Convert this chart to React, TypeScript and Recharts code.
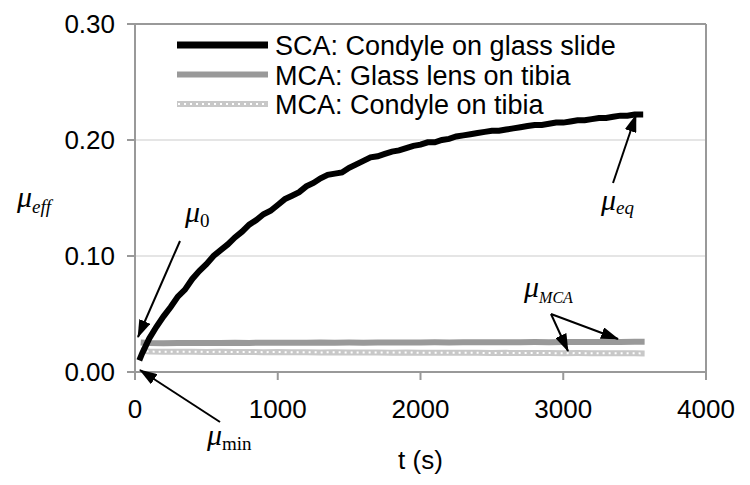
import React from "react";
import { LineChart, Line, XAxis, YAxis, CartesianGrid, ReferenceLine, Legend } from "recharts";

// SCA: Condyle on glass slide
const scaTime = [
  30, 50, 100, 150, 200, 250, 300, 350, 400, 450, 500, 550, 600, 650, 700, 750, 800, 850, 900, 950,
  1000, 1050, 1100, 1150, 1200, 1250, 1300, 1350, 1400, 1450, 1500, 1550, 1600, 1650, 1700, 1750,
  1800, 1850, 1900, 1950, 2000, 2050, 2100, 2150, 2200, 2250, 2300, 2350, 2400, 2450, 2500, 2550,
  2600, 2650, 2700, 2750, 2800, 2850, 2900, 2950, 3000, 3050, 3100, 3150, 3200, 3250, 3300, 3350,
  3400, 3450, 3500, 3560,
];
const scaMu = [
  0.010, 0.016, 0.029, 0.039, 0.048, 0.056, 0.065, 0.071, 0.080, 0.087, 0.093, 0.100, 0.105, 0.110,
  0.116, 0.121, 0.127, 0.131, 0.136, 0.139, 0.144, 0.149, 0.152, 0.155, 0.160, 0.163, 0.167, 0.170,
  0.171, 0.172, 0.176, 0.179, 0.182, 0.185, 0.186, 0.188, 0.190, 0.191, 0.193, 0.195, 0.196, 0.198,
  0.198, 0.200, 0.201, 0.203, 0.204, 0.205, 0.206, 0.207, 0.208, 0.208, 0.209, 0.210, 0.211, 0.212,
  0.213, 0.213, 0.214, 0.215, 0.215, 0.216, 0.217, 0.217, 0.218, 0.219, 0.219, 0.220, 0.221, 0.221,
  0.222, 0.222,
];

// MCA: Glass lens on tibia / Condyle on tibia
const mcaTime = [
  40, 100, 200, 300, 400, 500, 600, 700, 800, 900, 1000, 1100, 1200, 1300, 1400, 1500, 1600, 1700,
  1800, 1900, 2000, 2100, 2200, 2300, 2400, 2500, 2600, 2700, 2800, 2900, 3000, 3100, 3200, 3300,
  3400, 3500, 3570,
];
const lensMu = [
  0.0255, 0.0250, 0.0248, 0.0250, 0.0249, 0.0251, 0.0250, 0.0252, 0.0251, 0.0253, 0.0252, 0.0253,
  0.0252, 0.0254, 0.0253, 0.0254, 0.0253, 0.0255, 0.0254, 0.0255, 0.0255, 0.0256, 0.0255, 0.0256,
  0.0257, 0.0256, 0.0257, 0.0257, 0.0258, 0.0257, 0.0258, 0.0259, 0.0258, 0.0259, 0.0259, 0.0260,
  0.0260,
];
const condyleMu = [
  0.0185, 0.0176, 0.0175, 0.0174, 0.0175, 0.0173, 0.0174, 0.0172, 0.0173, 0.0171, 0.0172, 0.0170,
  0.0171, 0.0169, 0.0170, 0.0168, 0.0169, 0.0168, 0.0167, 0.0168, 0.0166, 0.0167, 0.0165, 0.0166,
  0.0165, 0.0164, 0.0165, 0.0163, 0.0164, 0.0163, 0.0162, 0.0163, 0.0162, 0.0161, 0.0162, 0.0161,
  0.0160,
];

const seriesNames = ["SCA: Condyle on glass slide", "MCA: Glass lens on tibia", "MCA: Condyle on tibia"];
const xTicks = [0, 1000, 2000, 3000, 4000];
const yTicks = [0, 0.1, 0.2, 0.3];

const scaData = scaTime.map((t, i) => ({ t, mu: scaMu[i] }));
const lensData = mcaTime.map((t, i) => ({ t, mu: lensMu[i] }));
const condyleData = mcaTime.map((t, i) => ({ t, mu: condyleMu[i] }));

const SANS = "Liberation Sans, Arial, sans-serif";
const SERIF = "Liberation Serif, Times New Roman, serif";

function LegendBox() {
  return (
    <svg width={470} height={100} style={{ display: "block" }}>
      {seriesNames.map((name, i) => {
        const cy = 20 + i * 29.5;
        return (
          <g key={name}>
            {i === 0 && <line x1={7} x2={98} y1={cy} y2={cy} stroke="#000" strokeWidth={7} />}
            {i === 1 && <line x1={7} x2={98} y1={cy} y2={cy} stroke="#999" strokeWidth={6} />}
            {i === 2 && (
              <>
                <line x1={7} x2={98} y1={cy} y2={cy} stroke="#c8c8c8" strokeWidth={6} />
                <line x1={8} x2={98} y1={cy} y2={cy} stroke="#fff" strokeWidth={2} strokeDasharray="2 4" />
              </>
            )}
            <text x={105} y={cy + 10} fontFamily={SANS} fontSize={27} fill="#000">
              {name}
            </text>
          </g>
        );
      })}
    </svg>
  );
}

function Annotations() {
  const mu = { fontFamily: SERIF, fontStyle: "italic" as const, fontSize: 30 };
  return (
    <svg
      width={750}
      height={485}
      style={{ position: "absolute", left: 0, top: 0, pointerEvents: "none" }}
    >
      <defs>
        <marker id="arr" markerUnits="userSpaceOnUse" markerWidth={18} markerHeight={12} refX={17} refY={6} orient="auto">
          <path d="M0,0 L18,6 L0,12 Z" fill="#000" />
        </marker>
      </defs>
      <text x={17} y={207} {...mu}>
        μ<tspan fontSize={19} dy={6}>eff</tspan>
      </text>
      <text x={185} y={222} {...mu}>
        μ<tspan fontSize={19} fontStyle="normal" dy={5}>0</tspan>
      </text>
      <text x={207} y={445} {...mu}>
        μ<tspan fontSize={19} fontStyle="normal" dy={5}>min</tspan>
      </text>
      <text x={601} y={210} {...mu}>
        μ<tspan fontSize={19} dy={4}>eq</tspan>
      </text>
      <text x={524} y={297} {...mu}>
        μ<tspan fontSize={16} dy={6}>MCA</tspan>
      </text>
      <line x1={180} y1={241} x2={138} y2={337} stroke="#000" strokeWidth={2} markerEnd="url(#arr)" />
      <line x1={220} y1={422} x2={140} y2={370} stroke="#000" strokeWidth={2} markerEnd="url(#arr)" />
      <line x1={613} y1={183} x2={636} y2={115} stroke="#000" strokeWidth={2} markerEnd="url(#arr)" />
      <line x1={551} y1={314} x2={568} y2={351} stroke="#000" strokeWidth={2} markerEnd="url(#arr)" />
      <line x1={551} y1={314} x2={618} y2={339} stroke="#000" strokeWidth={2} markerEnd="url(#arr)" />
    </svg>
  );
}

export default function App() {
  return (
    <div style={{ position: "absolute", left: 0, top: 0, width: 750, height: 485, background: "#fff" }}>
      <LineChart width={750} height={485} margin={{ top: 24, right: 44, left: 0, bottom: 0 }}>
        <CartesianGrid vertical={false} stroke="#dcdcdc" strokeWidth={1.5} />
        <XAxis
          dataKey="t"
          type="number"
          domain={[0, 4000]}
          ticks={xTicks}
          height={113}
          stroke="#999"
          strokeWidth={2}
          tickSize={8}
          tickMargin={20}
          tick={{ fill: "#000", fontSize: 26, fontFamily: SANS }}
          allowDuplicatedCategory={false}
          label={{ value: "t (s)", position: "insideBottom", offset: 16, fill: "#000", fontSize: 26, fontFamily: SANS }}
        />
        <YAxis
          type="number"
          domain={[0, 0.3]}
          ticks={yTicks}
          width={135}
          stroke="#999"
          strokeWidth={2}
          tickSize={8}
          tickMargin={12}
          tick={{ fill: "#000", fontSize: 26, fontFamily: SANS }}
          tickFormatter={(v: number) => v.toFixed(2)}
        />
        <ReferenceLine y={0.3} stroke="#999" strokeWidth={2} />
        <ReferenceLine x={4000} stroke="#999" strokeWidth={2} />
        <Line data={condyleData} dataKey="mu" stroke="#c8c8c8" strokeWidth={6} dot={false} isAnimationActive={false} />
        <Line data={condyleData} dataKey="mu" stroke="#fff" strokeWidth={2} strokeDasharray="2 4" dot={false} isAnimationActive={false} legendType="none" />
        <Line data={lensData} dataKey="mu" stroke="#999" strokeWidth={6} dot={false} isAnimationActive={false} />
        <Line data={scaData} dataKey="mu" stroke="#000" strokeWidth={6} dot={false} isAnimationActive={false} />
        <Legend
          layout="vertical"
          verticalAlign="middle"
          align="center"
          content={() => <LegendBox />}
          wrapperStyle={{ position: "absolute", top: 25, left: 170, width: 470, height: 100, margin: 0 }}
        />
      </LineChart>
      <Annotations />
    </div>
  );
}
